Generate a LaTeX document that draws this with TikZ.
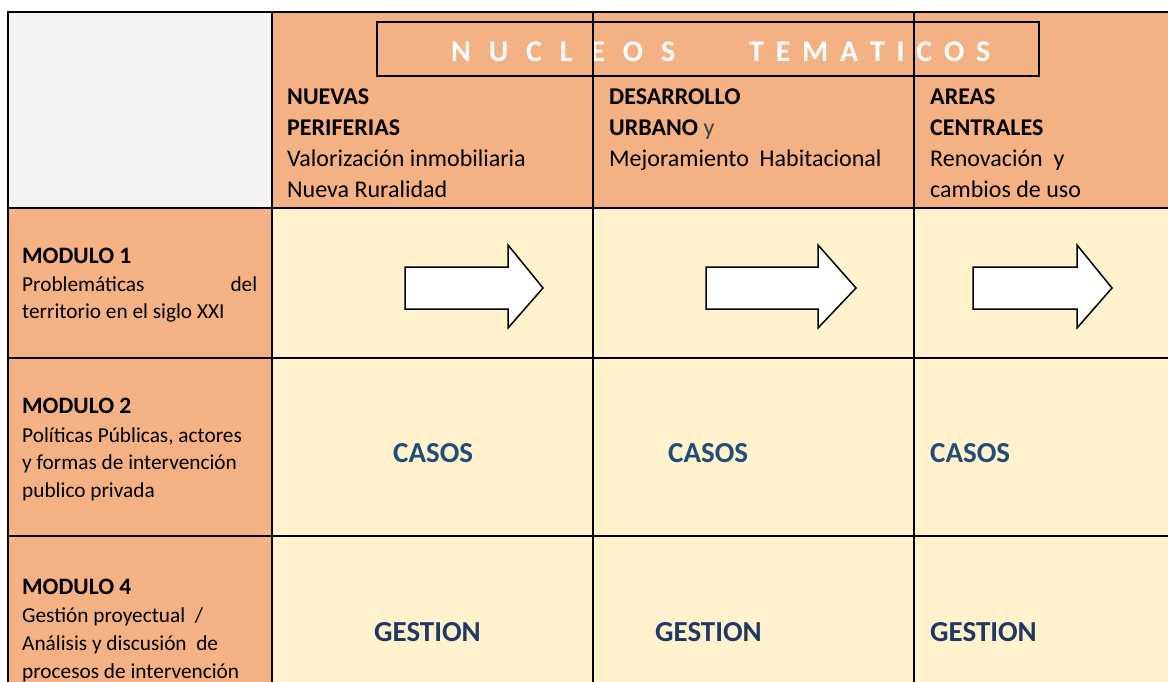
\documentclass[tikz,border=0pt]{standalone}
\usepackage{fontspec}
\setmainfont{Carlito}
\definecolor{hdr}{HTML}{F4B183}
\definecolor{cellbg}{HTML}{FFF2CC}
\definecolor{corner}{HTML}{F2F2F2}
\definecolor{casos}{HTML}{1F4E79}
\definecolor{gest}{HTML}{1F3864}
\definecolor{ygray}{HTML}{404040}
\begin{document}
\begin{tikzpicture}[x=1pt,y=-1pt,
  txt/.style={anchor=base west, inner sep=0pt, font=\fontsize{24}{28}\selectfont},
  side/.style={anchor=base west, inner sep=0pt, font=\fontsize{21.3}{26}\selectfont},
  modhead/.style={anchor=base west, inner sep=0pt, font=\fontsize{23.5}{28}\selectfont\bfseries},
  big/.style={anchor=base west, inner sep=0pt, font=\fontsize{29}{34}\selectfont\bfseries},
  gridline/.style={line width=2pt, black},
  arrowshape/.style={draw=black, fill=white, line width=1.5pt, line join=miter}]
\useasboundingbox (0,0) rectangle (1168,682);
% backgrounds
\fill[white] (0,0) rectangle (1168,682);
\fill[corner] (8,12) rectangle (272,208);
\fill[hdr] (272,12) rectangle (1168,208);
\fill[hdr] (8,208) rectangle (272,682);
\fill[cellbg] (272,208) rectangle (1168,682);
% title box
\draw[line width=1.6pt] (377,22) rectangle (1039,76);
\node[anchor=base west, inner sep=0pt, text=white, font=\fontsize{30}{34}\selectfont\bfseries] (title) at (451,62)
  {\makebox[224pt][s]{N\hfill U\hfill C\hfill L\hfill E\hfill O\hfill S}\hspace{74pt}\makebox[241pt][s]{T\hfill E\hfill M\hfill A\hfill T\hfill I\hfill C\hfill O\hfill S}};
% header column 1
\node[txt] (h1a) at (287,105) {\textbf{NUEVAS}};
\node[txt] (h1b) at (287,136) {\textbf{PERIFERIAS}};
\node[txt] (h1c) at (287,167) {Valorización inmobiliaria};
\node[txt] (h1d) at (287,197) {Nueva Ruralidad};
% header column 2
\node[txt] (h2a) at (609,105) {\textbf{DESARROLLO}};
\node[txt] (h2b) at (609,136) {\textbf{URBANO} \textcolor{ygray}{y}};
\node[txt] (h2c) at (609,167) {Mejoramiento\ \ Habitacional};
% header column 3
\node[txt] (h3a) at (930,105) {\textbf{AREAS}};
\node[txt] (h3b) at (930,136) {\textbf{CENTRALES}};
\node[txt] (h3c) at (930,167) {Renovación\ \ y};
\node[txt] (h3d) at (930,197) {cambios de uso};
% left column
\node[modhead] (m1) at (22,263) {MODULO 1};
\node[side] (m1a) at (22,291) {\makebox[235pt][s]{Problemáticas\hfill del}};
\node[side] (m1b) at (22,318) {territorio en el siglo XXI};
\node[modhead] (m2) at (22,413) {MODULO 2};
\node[side] (m2a) at (22,442) {Políticas Públicas, actores};
\node[side] (m2b) at (22,469) {y formas de intervención};
\node[side] (m2c) at (22,497) {publico privada};
\node[modhead] (m4) at (22,594) {MODULO 4};
\node[side] (m4a) at (22,622) {Gestión proyectual\ \ /};
\node[side] (m4b) at (22,650) {Análisis y discusión\ \ de};
\node[side] (m4c) at (22,678) {procesos de intervención};
% casos
\node[big, text=casos] (c1) at (393,462) {CASOS};
\node[big, text=casos] (c2) at (668,462) {CASOS};
\node[big, text=casos] (c3) at (930,462) {CASOS};
% gestion
\node[big, text=gest] (g1) at (374,641) {GESTION};
\node[big, text=gest] (g2) at (655,641) {GESTION};
\node[big, text=gest] (g3) at (930,641) {GESTION};
% arrows
\draw[arrowshape] (405,267) -- (508,267) -- (508,245) -- (543,288) -- (508,328) -- (508,309) -- (405,309) -- cycle;
\draw[arrowshape] (706,267) -- (818,267) -- (818,245) -- (856,288) -- (818,328) -- (818,309) -- (706,309) -- cycle;
\draw[arrowshape] (973,267) -- (1077,267) -- (1077,245) -- (1112,288) -- (1077,328) -- (1077,309) -- (973,309) -- cycle;
% grid
\draw[gridline] (7,12) -- (1168,12);
\draw[gridline] (8,208) -- (1168,208);
\draw[gridline] (8,358) -- (1168,358);
\draw[gridline] (8,536) -- (1168,536);
\draw[gridline] (8,11) -- (8,682);
\draw[gridline] (272,11) -- (272,682);
\draw[gridline] (593,11) -- (593,682);
\draw[gridline] (914,11) -- (914,682);
\end{tikzpicture}
\end{document}
